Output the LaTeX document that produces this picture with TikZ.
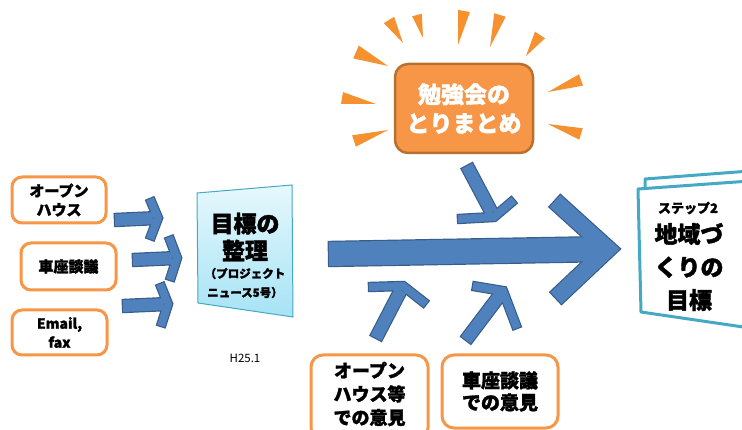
\documentclass[tikz,border=0pt]{standalone}
\usepackage{fontspec}
\setmainfont{Noto Sans CJK JP}[BoldFeatures={FakeBold=1.6}]
\usetikzlibrary{calc}
\definecolor{orng}{HTML}{F79646}
\definecolor{orngdark}{HTML}{B8702F}
\definecolor{rayc}{HTML}{F5912E}
\definecolor{arrfill}{HTML}{4F81BD}
\definecolor{arrline}{HTML}{385D8A}
\definecolor{docline}{HTML}{45A9C5}
\definecolor{paneltop}{HTML}{E6F8FD}
\definecolor{panelbot}{HTML}{A6E3F5}
\newcommand\openarr[6]{%
  \draw[line width=#5+2.4pt, draw=arrline, shorten <=-1.2pt, shorten >=#6*0.6] (#1) -- (#2);
  \draw[line width=#6+2.4pt, draw=arrline, line join=miter, shorten <=-1.2pt, shorten >=-1.2pt] (#3) -- (#2) -- (#4);
  \draw[line width=#5, draw=arrfill, shorten >=#6*0.6] (#1) -- (#2);
  \draw[line width=#6, draw=arrfill, line join=miter] (#3) -- (#2) -- (#4);
}
\newcommand\sunray[3]{%
  \fill[rayc] (#2) -- ($(#1)!#3!90:(#2)$) -- ($(#1)!#3!-90:(#2)$) -- cycle;
}
\tikzset{
  lbox/.style={draw=orng, line width=3pt, rounded corners=10pt, fill=white,
    inner sep=0pt, align=center, font=\bfseries\fontsize{15}{19}\selectfont},
  bbox/.style={draw=orng, line width=3pt, rounded corners=12pt, fill=white,
    inner sep=0pt, align=center},
  jtext/.style={align=center, inner sep=0pt},
}
\begin{document}
\begin{tikzpicture}[x=1pt, y=-1pt]
\useasboundingbox (0,0) rectangle (742,430);
\clip (0,0) rectangle (742,430);

% left boxes
\node[lbox, minimum width=94pt, minimum height=46pt] (b1) at (59,200) {オープン\\ハウス};
\node[lbox, minimum width=95pt, minimum height=47pt] (b2) at (68.5,266.5) {車座談議};
\node[lbox, minimum width=95pt, minimum height=45pt, font=\bfseries\fontsize{14}{19}\selectfont] (b3) at (59.5,332.5) {Email,\\fax};

% left arrows
\coordinate (a1t) at (115,220); \coordinate (a1h) at (158,218);
\coordinate (a1u) at (150,199); \coordinate (a1d) at (150,239);
\coordinate (a2t) at (133,260); \coordinate (a2h) at (177,258);
\coordinate (a2u) at (169,237); \coordinate (a2d) at (170,280);
\coordinate (a3t) at (123,306); \coordinate (a3h) at (168,304);
\coordinate (a3u) at (160,284); \coordinate (a3d) at (161,326);
\openarr{a1t}{a1h}{a1u}{a1d}{12pt}{8pt}
\openarr{a2t}{a2h}{a2u}{a2d}{12pt}{8pt}
\openarr{a3t}{a3h}{a3u}{a3d}{12pt}{8pt}

% centre panel
\coordinate (p1) at (197,193); \coordinate (p2) at (292,185);
\coordinate (p3) at (293,317); \coordinate (p4) at (198,303);
\shade[top color=paneltop, bottom color=panelbot] (p1) -- (p2) -- (p3) -- (p4) -- cycle;
\draw[docline, line width=1pt] (p1) -- (p2) -- (p3) -- (p4) -- cycle;
\node[jtext, font=\bfseries\fontsize{23}{27}\selectfont] (pt1) at (245,237) {目標の\\整理};
\node[jtext, font=\bfseries\fontsize{11.5}{19}\selectfont] (pt2) at (245,283) {（プロジェクト\\ニュース5号）};
\node[jtext, font=\fontsize{11.5}{13}\selectfont] (h25) at (245,358) {H25.1};

% sun rays
\coordinate (r1w) at (389,20);  \coordinate (r1p) at (403,43);
\coordinate (r2w) at (417,15);  \coordinate (r2p) at (423,38);
\coordinate (r3w) at (464,11);  \coordinate (r3p) at (458,45);
\coordinate (r4w) at (500,15);  \coordinate (r4p) at (490,47);
\coordinate (r5w) at (540,35);  \coordinate (r5p) at (526,56);
\coordinate (r6w) at (356,52);  \coordinate (r6p) at (388,66);
\coordinate (r7w) at (342,98);  \coordinate (r7p) at (376,104);
\coordinate (r8w) at (354,141); \coordinate (r8p) at (388,130);
\coordinate (r9w) at (581,80);  \coordinate (r9p) at (548,92);
\coordinate (r10w) at (581,134); \coordinate (r10p) at (548,124);
\sunray{r1w}{r1p}{6pt}
\sunray{r2w}{r2p}{5pt}
\sunray{r3w}{r3p}{6pt}
\sunray{r4w}{r4p}{6pt}
\sunray{r5w}{r5p}{6pt}
\sunray{r6w}{r6p}{7pt}
\sunray{r7w}{r7p}{6pt}
\sunray{r8w}{r8p}{6pt}
\sunray{r9w}{r9p}{6pt}
\sunray{r10w}{r10p}{6pt}

% orange summary box
\node[draw=orngdark, fill=orng, line width=2.5pt, rounded corners=13pt,
  minimum width=138pt, minimum height=89pt, inner sep=0pt, align=center,
  text=white, font=\bfseries\fontsize{23}{29}\selectfont] (sum) at (464,108.5) {勉強会の\\とりまとめ};

% big arrow
\coordinate (bt) at (329,254); \coordinate (bh) at (608,249);
\coordinate (bu) at (555,201); \coordinate (bd) at (556,298);
\openarr{bt}{bh}{bu}{bd}{24pt}{16pt}

% diagonal arrows
\coordinate (ct) at (467,166); \coordinate (ch) at (494,217);
\coordinate (cu) at (458,219); \coordinate (cd) at (514,200);
\openarr{ct}{ch}{cu}{cd}{12pt}{8pt}
\coordinate (dt) at (376,338); \coordinate (dh) at (403,286);
\coordinate (du) at (369,287); \coordinate (dd) at (426,304);
\openarr{dt}{dh}{du}{dd}{12pt}{8pt}
\coordinate (et) at (466,340); \coordinate (eh) at (503,291);
\coordinate (eu) at (473,286); \coordinate (ed) at (517,328);
\openarr{et}{eh}{eu}{ed}{12pt}{8pt}

% bottom boxes
\node[bbox, minimum width=117pt, minimum height=85pt] (c1) at (369.5,397.5) {};
\node[jtext, font=\bfseries\fontsize{18}{23.5}\selectfont] (c1t) at (369.5,394) {オープン\\ハウス等\\での意見};
\node[bbox, minimum width=116pt, minimum height=73pt, font=\bfseries\fontsize{19}{22}\selectfont] (c2) at (500,391.5) {車座談議\\での意見};

% right document
\draw[docline, line width=3pt, line join=round] (645,189) -- (645,179) -- (750,171);
\fill[white] (750,181) -- (638,189) -- (641,312) -- (750,328) -- cycle;
\draw[docline, line width=3pt, line join=round] (750,181) -- (638,189) -- (641,312) -- (750,328);
\node[jtext, font=\bfseries\fontsize{13}{15}\selectfont] (s2) at (688,208) {ステップ2};
\node[jtext, font=\bfseries\fontsize{23}{33}\selectfont] (goal) at (689,267) {地域づ\\くりの\\目標};
\end{tikzpicture}
\end{document}
